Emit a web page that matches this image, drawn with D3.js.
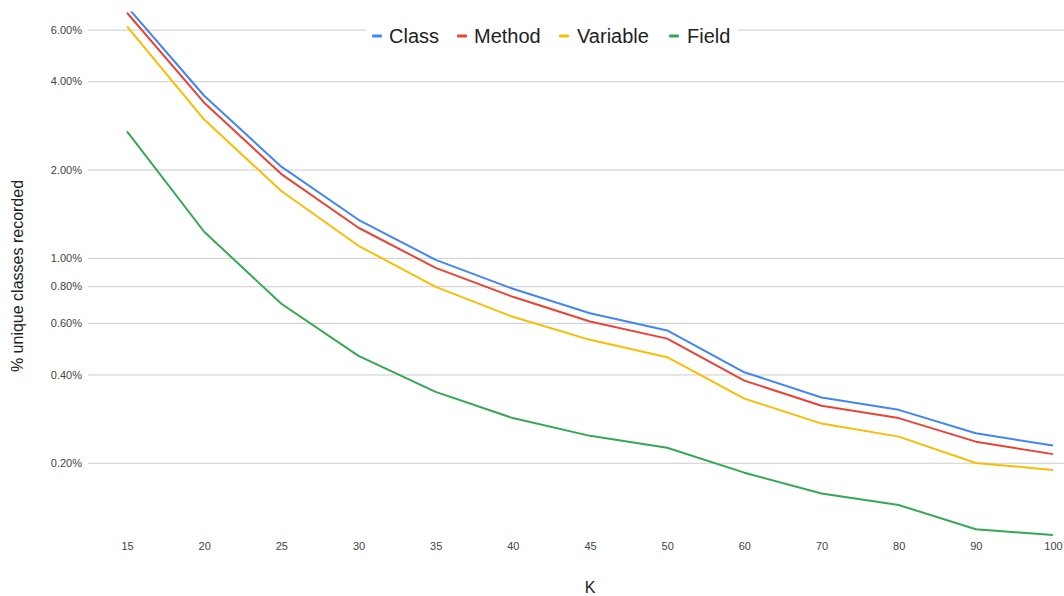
<!DOCTYPE html>
<html>
<head>
<meta charset="utf-8">
<script src="https://cdn.jsdelivr.net/npm/d3@7"></script>
<style>
  html, body { margin: 0; padding: 0; background: #fff; }
  svg { display: block; font-family: "Liberation Sans", Arial, sans-serif; }
</style>
</head>
<body>
<svg id="chart" width="1064" height="596"></svg>
<script>
// K values along the x axis
const kValues = ["15", "20", "25", "30", "35", "40", "45", "50", "60", "70", "80", "90", "100"];

// Percentage of unique classes recorded, per series
const classValues    = [7.19, 3.57, 2.045, 1.348, 0.984, 0.784, 0.647, 0.565, 0.407, 0.334, 0.303, 0.252, 0.229];
const methodValues   = [6.85, 3.38, 1.93, 1.266, 0.924, 0.736, 0.606, 0.530, 0.381, 0.313, 0.284, 0.236, 0.214];
const variableValues = [6.16, 2.96, 1.69, 1.099, 0.796, 0.629, 0.525, 0.458, 0.331, 0.272, 0.2455, 0.1996, 0.189];
const fieldValues    = [2.70, 1.227, 0.697, 0.463, 0.349, 0.284, 0.247, 0.225, 0.185, 0.157, 0.1435, 0.1186, 0.1134];

const seriesNames  = ["Class", "Method", "Variable", "Field"];
const seriesColors = ["#4285F4", "#EA4335", "#FBBC04", "#34A853"];
const yTickValues  = [0.2, 0.4, 0.6, 0.8, 1, 2, 4, 6];

const series = [classValues, methodValues, variableValues, fieldValues].map((vals, i) => ({
  name: seriesNames[i],
  color: seriesColors[i],
  values: vals
}));

const svg = d3.select("#chart");
const W = 1064, H = 596;
const plot = { left: 88, right: 1064, top: 10, bottom: 551 };

const x = d3.scalePoint().domain(kValues).range([127, 1053]);
const y = d3.scaleLog().domain([0.1, 7]).range([plot.bottom, plot.top]);

// clip region for the lines
svg.append("defs").append("clipPath").attr("id", "plotClip")
  .append("rect")
  .attr("x", 0).attr("y", plot.top + 1.5)
  .attr("width", W).attr("height", plot.bottom - plot.top);

// gridlines + y tick labels
const yAxis = d3.axisLeft(y)
  .tickValues(yTickValues)
  .tickSize(-(plot.right - plot.left))
  .tickPadding(6)
  .tickFormat(d => d3.format(".2f")(d) + "%");

const gy = svg.append("g")
  .attr("transform", `translate(${plot.left},0)`)
  .call(yAxis);
gy.select(".domain").remove();
gy.selectAll(".tick line").attr("stroke", "#cccccc").attr("stroke-width", 1);
gy.selectAll(".tick text")
  .attr("fill", "#444")
  .style("font-size", "11px")
  .attr("font-family", "Liberation Sans, Arial, sans-serif");

// x tick labels
const xAxis = d3.axisBottom(x).tickSize(0).tickPadding(0);
const gx = svg.append("g")
  .attr("transform", `translate(0,542)`)
  .call(xAxis);
gx.select(".domain").remove();
gx.selectAll(".tick text")
  .attr("fill", "#444")
  .style("font-size", "11px")
  .attr("font-family", "Liberation Sans, Arial, sans-serif");

// lines
const line = d3.line()
  .x((d, i) => x(kValues[i]))
  .y(d => y(d));

svg.append("g").attr("clip-path", "url(#plotClip)")
  .selectAll("path")
  .data(series.slice().reverse())
  .join("path")
  .attr("d", d => line(d.values))
  .attr("fill", "none")
  .attr("stroke", d => d.color)
  .attr("stroke-width", 2)
  .attr("stroke-linejoin", "round");

// legend
const legend = svg.append("g");
const legendItems = [
  { x: 372, textX: 389 },
  { x: 457, textX: 474 },
  { x: 559, textX: 577 },
  { x: 669, textX: 687 }
];
legend.append("rect")
  .attr("x", 366).attr("y", 22).attr("width", 372).attr("height", 28)
  .attr("fill", "#fff");
series.forEach((s, i) => {
  const it = legendItems[i];
  legend.append("rect")
    .attr("x", it.x).attr("y", 34.5).attr("width", 10).attr("height", 3)
    .attr("rx", 1)
    .attr("fill", s.color);
  legend.append("text")
    .attr("x", it.textX).attr("y", 43)
    .attr("fill", "#222")
    .style("font-size", "20px")
    .text(s.name);
});

// axis titles
svg.append("text")
  .attr("x", 590).attr("y", 593)
  .attr("text-anchor", "middle")
  .attr("fill", "#222")
  .style("font-size", "16px")
  .text("K");

svg.append("text")
  .attr("transform", "translate(23,276) rotate(-90)")
  .attr("text-anchor", "middle")
  .attr("fill", "#222")
  .style("font-size", "16px")
  .text("% unique classes recorded");
</script>
</body>
</html>
